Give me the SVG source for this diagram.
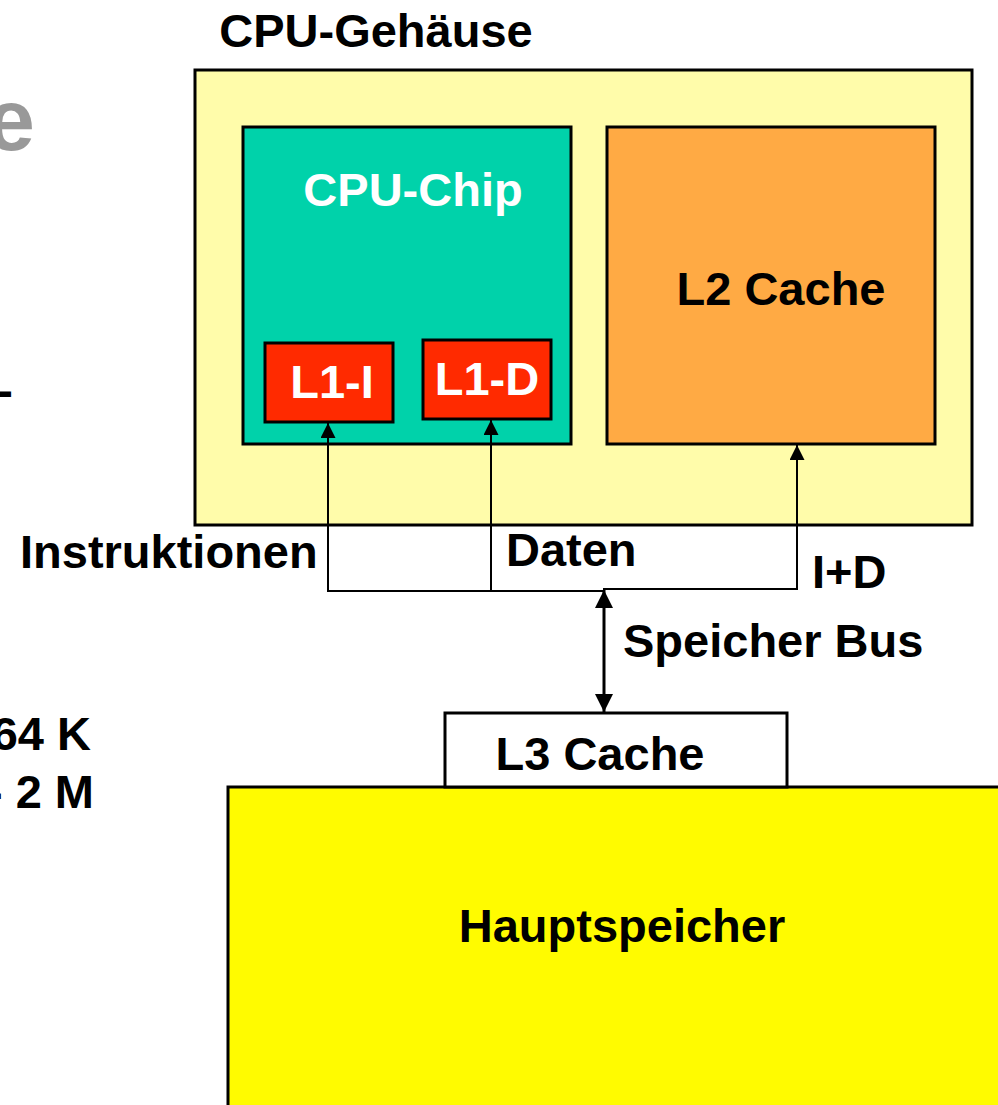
<svg xmlns="http://www.w3.org/2000/svg" width="998" height="1105" viewBox="0 0 998 1105">
  <style>
    .lbl { font-family: "Liberation Sans", Arial, Helvetica, sans-serif; font-weight: bold; font-size: 47px; fill: #000; }
    .wht { fill: #fff; }
    .box { stroke: #000; stroke-width: 3; }
    .wire { fill: none; stroke: #000; stroke-width: 2; }
    .bus { fill: none; stroke: #000; stroke-width: 3; }
  </style>
  <defs>
    <marker id="tip" viewBox="0 0 10 10" refX="10" refY="5" markerWidth="7.5" markerHeight="7.5" markerUnits="strokeWidth" orient="auto">
      <path d="M0,0 L10,5 L0,10 z" fill="#000"/>
    </marker>
    <marker id="tipBus" viewBox="0 0 10 10" refX="10" refY="5" markerWidth="6" markerHeight="6" markerUnits="strokeWidth" orient="auto-start-reverse">
      <path d="M0,0 L10,5 L0,10 z" fill="#000"/>
    </marker>
  </defs>

  <rect width="998" height="1105" fill="#fff"/>

  <!-- text fragments at the left margin -->
  <g id="margin-text">
    <text x="35" y="150" text-anchor="end" style="font-family: 'Liberation Sans', Arial, sans-serif; font-weight: bold; font-size: 88px; fill: #999;">e</text>
    <text class="lbl" x="13" y="406" text-anchor="end">-</text>
    <text class="lbl" x="91" y="750" text-anchor="end">64 K</text>
    <text class="lbl" x="94" y="808" text-anchor="end">- 2 M</text>
  </g>

  <!-- main memory and L3 cache -->
  <g id="hauptspeicher">
    <rect class="box" x="228" y="787" width="800" height="400" fill="#FFFB00"/>
    <text class="lbl" x="622" y="942" text-anchor="middle">Hauptspeicher</text>
  </g>
  <g id="l3-cache">
    <rect class="box" x="445" y="713" width="342" height="74" fill="#fff"/>
    <text class="lbl" x="600" y="770" text-anchor="middle">L3 Cache</text>
  </g>

  <!-- CPU package -->
  <g id="cpu-gehaeuse">
    <rect class="box" x="195" y="70" width="777" height="455" fill="#FFFCAA"/>
    <text class="lbl" x="376" y="47" text-anchor="middle">CPU-Gehäuse</text>
  </g>
  <g id="cpu-chip">
    <rect class="box" x="243" y="127" width="328" height="317" fill="#00D2AA"/>
    <text class="lbl wht" x="413" y="206" text-anchor="middle">CPU-Chip</text>
  </g>
  <g id="l1-i">
    <rect class="box" x="265" y="343" width="128" height="79" fill="#FF2A00"/>
    <text class="lbl wht" x="332" y="398" text-anchor="middle">L1-I</text>
  </g>
  <g id="l1-d">
    <rect class="box" x="423" y="340" width="128" height="79" fill="#FF2A00"/>
    <text class="lbl wht" x="487" y="395" text-anchor="middle">L1-D</text>
  </g>
  <g id="l2-cache">
    <rect class="box" x="607" y="127" width="328" height="317" fill="#FFAA44"/>
    <text class="lbl" x="781" y="305" text-anchor="middle">L2 Cache</text>
  </g>

  <!-- connectors -->
  <g id="connectors">
    <polyline class="wire" points="328,424 328,591 604,591 604,589 797,589 797,446"/>
    <line class="wire" x1="328" y1="591" x2="328" y2="423" marker-end="url(#tip)"/>
    <line class="wire" x1="491" y1="591" x2="491" y2="420" marker-end="url(#tip)"/>
    <line class="wire" x1="797" y1="589" x2="797" y2="445" marker-end="url(#tip)"/>
    <line class="bus" x1="604" y1="590" x2="604" y2="712" marker-start="url(#tipBus)" marker-end="url(#tipBus)"/>
  </g>

  <!-- connector labels -->
  <g id="labels">
    <text class="lbl" x="20" y="568">Instruktionen</text>
    <text class="lbl" x="506" y="566">Daten</text>
    <text class="lbl" x="812" y="588">I+D</text>
    <text class="lbl" x="623" y="657">Speicher Bus</text>
  </g>
</svg>
